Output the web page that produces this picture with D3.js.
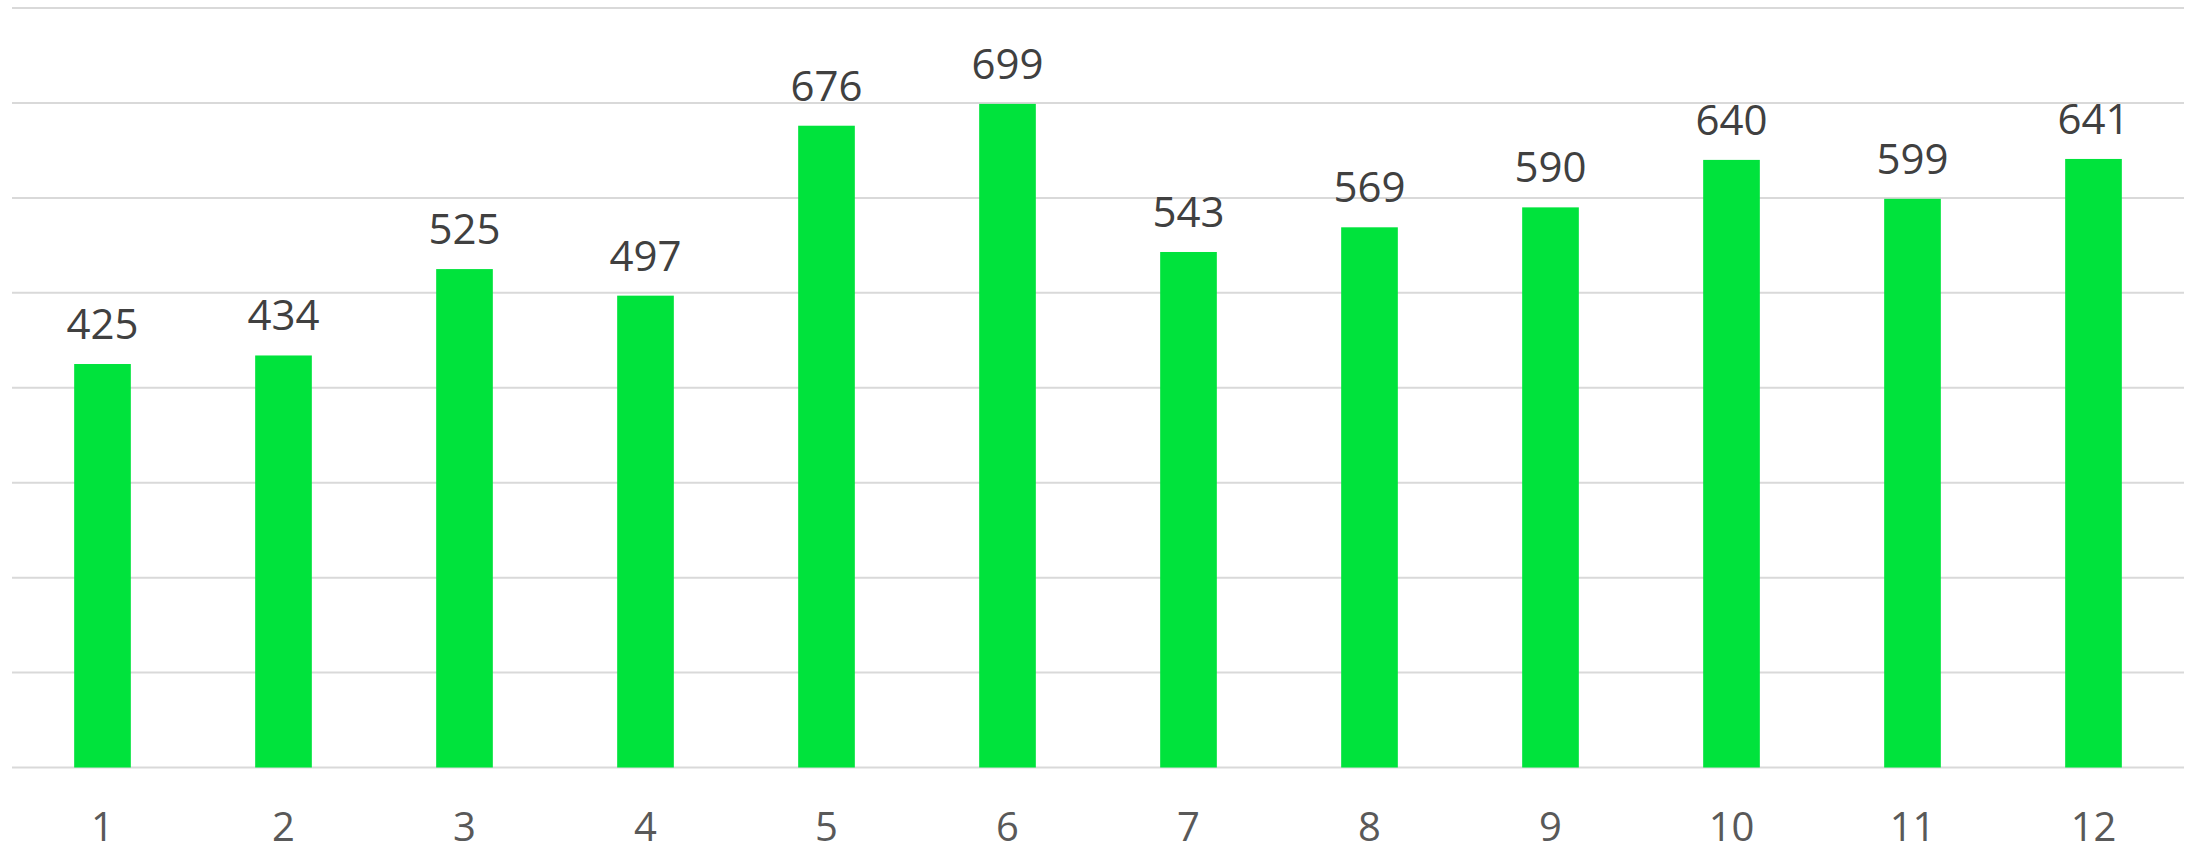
<!DOCTYPE html>
<html><head><meta charset="utf-8">
<script src="https://cdn.jsdelivr.net/npm/d3@7"></script>
<style>html,body{margin:0;padding:0;background:#fff;}svg{display:block;}</style>
</head><body>
<script>
const categories = ["1","2","3","4","5","6","7","8","9","10","11","12"];
const values = [425,434,525,497,676,699,543,569,590,640,599,641];
const yTicks = [0,100,200,300,400,500,600,700,800];

const W = 2186, H = 851;
const plotLeft = 12, plotRight = 2184, plotTop = 8, plotBottom = 767.5;
const svg = d3.select("body").append("svg").attr("width", W).attr("height", H);

const x = d3.scaleBand().domain(categories).range([plotLeft, plotRight]).paddingInner(0.687).paddingOuter(0.3435);
const y = d3.scaleLinear().domain([0, 800]).range([plotBottom, plotTop]);

svg.append("g").selectAll("line").data(yTicks).join("line")
  .attr("x1", plotLeft).attr("x2", plotRight)
  .attr("y1", d => y(d)).attr("y2", d => y(d))
  .attr("stroke", "#d9d9d9").attr("stroke-width", 2);

svg.append("g").selectAll("rect").data(values).join("rect")
  .attr("x", (d,i) => x(categories[i]))
  .attr("width", x.bandwidth())
  .attr("y", d => y(d))
  .attr("height", d => y(0) - y(d))
  .attr("fill", "#00e33c");

svg.append("g").selectAll("text").data(values).join("text")
  .attr("x", (d,i) => x(categories[i]) + x.bandwidth()/2)
  .attr("y", d => y(d) - 25)
  .attr("text-anchor", "middle")
  .attr("font-family", "Open Sans")
  .attr("font-size", 42)
  .attr("fill", "#404040")
  .text(d => d);

const xAxis = d3.axisBottom(x).tickSize(0).tickPadding(0);
const gx = svg.append("g").attr("transform", `translate(0,${plotBottom})`).call(xAxis);
gx.select(".domain").remove();
gx.selectAll("text")
  .attr("y", 73).attr("dy", 0)
  .attr("font-family", "Open Sans")
  .attr("font-size", 40)
  .attr("fill", "#595959");
</script>
</body></html>
